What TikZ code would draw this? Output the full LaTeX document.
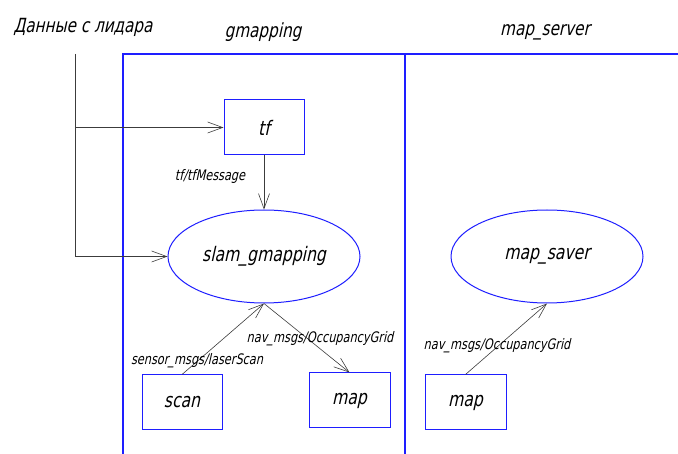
\documentclass[tikz,border=0pt]{standalone}
\usepackage{fontspec}
\setmainfont{DejaVu Sans}[FakeSlant=0.22,FakeStretch=0.78]
\usetikzlibrary{shapes.geometric,arrows.meta}
\definecolor{frameblue}{RGB}{30,30,255}
\definecolor{linegray}{RGB}{60,60,60}
\tikzset{
  bluebox/.style={draw=frameblue,line width=1pt,inner sep=0pt,font=\fontsize{20}{20}\selectfont},
  oval/.style={ellipse,draw=frameblue,line width=1pt,inner sep=0pt,minimum width=192pt,minimum height=93pt,font=\fontsize{20}{20}\selectfont},
  conn/.style={draw=linegray,line width=0.6pt,-{Straight Barb[length=15pt,width=11pt]}},
  lbl/.style={font=\fontsize{14.5}{14.5}\selectfont,inner sep=0pt},
  title/.style={font=\fontsize{19.5}{19.5}\selectfont,inner sep=0pt},
  framel/.style={draw=frameblue,line width=1.2pt}
}
\begin{document}
\begin{tikzpicture}[x=1pt,y=-1pt]
\useasboundingbox (0,0) rectangle (678,454);
% titles
\node[title] (t1) at (83,27) {Данные с лидара};
\node[title] (t2) at (263,32) {gmapping};
\node[title] (t3) at (545,32) {map\_server};
% frame
\draw[framel] (123,454) -- (123,54) -- (678,54);
\draw[framel] (405,54) -- (405,454);
% nodes
\node[bluebox,minimum width=80pt,minimum height=55pt] (tf) at (264,127.5) {tf};
\node[oval] (slam) at (264,256.5) {slam\_gmapping};
\node[bluebox,minimum width=80pt,minimum height=55pt] (scan) at (182,402.5) {scan};
\node[bluebox,minimum width=81pt,minimum height=55pt] (map1) at (349.5,400.5) {map};
\node[oval] (saver) at (547,256.5) {map\_saver};
\node[bluebox,minimum width=81pt,minimum height=55pt] (map2) at (465.5,402.5) {map};
% input lines
\coordinate (in) at (75,54);
\coordinate (br) at (75,127.5);
\coordinate (cr) at (75,256.5);
\draw[conn] (in) -- (cr) -- (slam.west);
\draw[conn] (br) -- (tf.west);
% connectors
\draw[conn] (tf.south) -- (slam.north);
\draw[conn] (scan.north) -- (slam.south);
\draw[conn] (slam.south) -- (map1.north);
\draw[conn] (map2.north) -- (saver.south);
% labels
\node[lbl] (l1) at (210,177) {tf/tfMessage};
\node[lbl] (l2) at (197,361) {sensor\_msgs/laserScan};
\node[lbl] (l3) at (320,339) {nav\_msgs/OccupancyGrid};
\node[lbl] (l4) at (497,346) {nav\_msgs/OccupancyGrid};
\end{tikzpicture}
\end{document}
